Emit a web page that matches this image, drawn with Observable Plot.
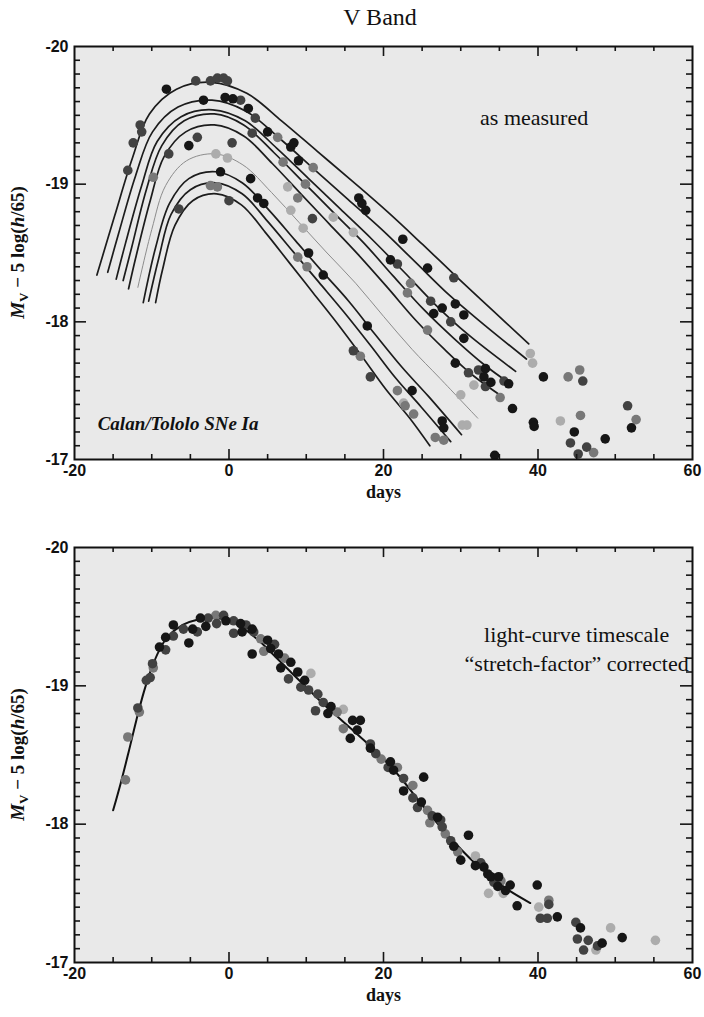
<!DOCTYPE html>
<html><head><meta charset="utf-8">
<script src="https://cdn.jsdelivr.net/npm/d3@7"></script>
<script src="https://cdn.jsdelivr.net/npm/@observablehq/plot@0.6"></script>
<style>
body{margin:0;background:#fff;}
#wrap{position:relative;width:704px;height:1017px;overflow:hidden;}
#title{position:absolute;left:280px;width:200px;top:2px;text-align:center;font-family:"Liberation Serif","Times New Roman",serif;font-size:24px;line-height:30px;color:#111;}
</style></head>
<body><div id="wrap"><div id="title">V Band</div></div>
<script>
// ---------- data ----------
const xTickLabels = [-20, 0, 20, 40, 60];
const yTickLabels = [-20, -19, -18, -17];
const shadeCodes = ["l", "g", "d", "k"];
const shadeColors = ["#acacac", "#787878", "#424242", "#161616"];

// top panel: fitted template curves, [day, mag]
const curve1 = [[-17.1,-18.34],[-14.8,-18.77],[-12.5,-19.19],[-10.3,-19.51],[-6.8,-19.69],[-2.3,-19.74],[2.3,-19.66],[6.8,-19.46],[11.4,-19.24],[16.0,-19.02],[20.5,-18.80],[25.1,-18.56],[29.6,-18.32],[34.2,-18.08],[38.8,-17.84]];
const curve2 = [[-15.7,-18.36],[-14.3,-18.64],[-12.1,-19.06],[-9.9,-19.38],[-6.6,-19.56],[-2.2,-19.61],[2.2,-19.53],[6.6,-19.33],[11.0,-19.11],[15.4,-18.89],[19.8,-18.67],[24.2,-18.43],[28.6,-18.19],[33.0,-17.98],[38.5,-17.73]];
const curve3 = [[-14.6,-18.31],[-13.4,-18.57],[-11.3,-18.99],[-9.3,-19.31],[-6.2,-19.49],[-2.1,-19.54],[2.1,-19.46],[6.2,-19.26],[10.3,-19.04],[14.4,-18.82],[18.5,-18.60],[22.7,-18.36],[26.8,-18.12],[30.9,-17.91],[37.1,-17.64]];
const curve4 = [[-13.7,-18.30],[-12.6,-18.54],[-10.7,-18.96],[-8.7,-19.28],[-5.8,-19.46],[-1.9,-19.51],[1.9,-19.43],[5.8,-19.23],[9.7,-19.01],[13.6,-18.79],[17.5,-18.57],[21.3,-18.33],[25.2,-18.09],[29.1,-17.88],[33.0,-17.69],[36.4,-17.55]];
const curve5 = [[-13.0,-18.24],[-12.1,-18.46],[-10.2,-18.88],[-8.4,-19.20],[-5.6,-19.38],[-1.9,-19.43],[1.9,-19.35],[5.6,-19.15],[9.3,-18.93],[13.0,-18.71],[16.7,-18.49],[20.5,-18.25],[24.2,-18.01],[27.9,-17.80],[31.6,-17.61],[35.3,-17.46]];
const curve6 = [[-11.8,-18.25],[-10.0,-18.67],[-8.2,-18.99],[-5.5,-19.17],[-1.8,-19.22],[1.8,-19.14],[5.5,-18.94],[9.1,-18.72],[12.7,-18.50],[16.4,-18.28],[20.0,-18.04],[23.7,-17.80],[27.3,-17.59],[32.2,-17.30]];
const curve7 = [[-11.1,-18.14],[-9.5,-18.54],[-7.7,-18.86],[-5.2,-19.04],[-1.7,-19.09],[1.7,-19.01],[5.2,-18.81],[8.6,-18.59],[12.0,-18.37],[15.5,-18.15],[18.9,-17.91],[22.4,-17.67],[25.8,-17.46],[30.1,-17.18]];
const curve8 = [[-10.4,-18.15],[-9.1,-18.46],[-7.5,-18.78],[-5.0,-18.96],[-1.7,-19.01],[1.7,-18.93],[5.0,-18.73],[8.3,-18.51],[11.6,-18.29],[14.9,-18.07],[18.3,-17.83],[21.6,-17.59],[24.9,-17.38],[28.7,-17.13]];
const curve9 = [[-9.5,-18.14],[-8.6,-18.38],[-7.0,-18.70],[-4.7,-18.88],[-1.6,-18.93],[1.6,-18.85],[4.7,-18.65],[7.8,-18.43],[10.9,-18.21],[14.0,-17.99],[17.2,-17.75],[20.3,-17.51],[23.4,-17.30],[26.0,-17.10]];
const thinCurves = ["curve6"];

// top panel: measured points [day, mag, shade]
const topPoints = [
[-8.1,-19.69,"k"],[-4.3,-19.75,"d"],[-2.4,-19.75,"d"],[-1.5,-19.77,"d"],[-0.7,-19.77,"d"],[-0.2,-19.75,"d"],
[-3.3,-19.61,"k"],[-0.5,-19.63,"k"],[0.5,-19.62,"k"],[1.5,-19.61,"d"],[2.5,-19.55,"k"],[3.4,-19.48,"d"],
[5.0,-19.38,"k"],[3.0,-19.37,"d"],[8.0,-19.27,"k"],[8.4,-19.30,"k"],[9.0,-19.17,"k"],[-5.2,-19.28,"k"],
[-7.8,-19.22,"d"],[-4.1,-19.34,"d"],[0.4,-19.30,"d"],[-1.7,-19.22,"l"],[-0.2,-19.19,"l"],[-1.1,-19.09,"k"],
[-2.4,-18.99,"g"],[-1.5,-18.98,"g"],[0.0,-18.88,"d"],[2.8,-19.04,"k"],[3.7,-18.90,"k"],[4.5,-18.86,"k"],
[7.6,-18.98,"l"],[8.9,-18.90,"g"],[8.0,-18.81,"l"],[10.8,-18.75,"d"],[10.3,-18.50,"k"],[9.6,-18.68,"l"],
[-6.5,-18.82,"d"],[-9.8,-19.05,"g"],[-13.1,-19.10,"d"],[-11.5,-19.43,"d"],[-11.3,-19.38,"d"],[-12.4,-19.30,"d"],
[16.8,-18.90,"k"],[17.7,-18.81,"k"],[17.2,-18.86,"k"],[22.5,-18.60,"k"],[16.1,-18.65,"l"],[13.5,-18.76,"l"],
[10.9,-19.12,"g"],[9.9,-19.00,"g"],[6.3,-19.34,"g"],[7.0,-19.16,"g"],
[12.2,-18.34,"k"],[8.9,-18.47,"g"],[10.1,-18.40,"g"],[17.9,-17.97,"k"],[16.1,-17.79,"d"],[17.0,-17.75,"g"],
[18.3,-17.60,"d"],[21.8,-17.50,"g"],[22.6,-17.41,"l"],[23.7,-17.50,"k"],[22.8,-17.39,"g"],[23.9,-17.33,"g"],
[27.6,-17.28,"k"],[27.8,-17.23,"k"],[26.7,-17.16,"g"],[27.8,-17.14,"g"],[30.2,-17.25,"l"],[30.8,-17.25,"l"],
[30.0,-17.47,"l"],[31.7,-17.54,"l"],[25.7,-18.39,"k"],[29.1,-18.32,"d"],[20.9,-18.45,"k"],[21.8,-18.42,"d"],
[23.5,-18.28,"g"],[23.1,-18.21,"g"],[26.1,-18.15,"d"],[26.5,-18.06,"k"],[27.6,-18.10,"k"],[29.3,-18.13,"k"],
[30.4,-18.05,"k"],[28.7,-18.00,"d"],[25.7,-17.94,"g"],[30.4,-17.88,"k"],[29.3,-17.70,"k"],[31.0,-17.63,"d"],
[32.3,-17.65,"d"],[33.2,-17.66,"k"],[33.0,-17.60,"k"],[33.9,-17.56,"k"],[33.2,-17.53,"d"],[35.1,-17.45,"g"],
[36.2,-17.55,"k"],[36.7,-17.37,"k"],[35.6,-17.57,"d"],[39.0,-17.77,"l"],[39.3,-17.70,"l"],[40.7,-17.60,"k"],
[43.9,-17.60,"g"],[45.4,-17.65,"g"],[45.8,-17.57,"d"],[45.5,-17.32,"g"],[42.9,-17.28,"l"],[39.4,-17.27,"k"],
[39.5,-17.24,"k"],[44.7,-17.20,"k"],[44.2,-17.12,"d"],[46.3,-17.09,"d"],[45.2,-17.04,"d"],[47.2,-17.05,"g"],
[48.7,-17.15,"k"],[51.6,-17.39,"d"],[52.7,-17.29,"g"],[52.1,-17.23,"k"],[34.4,-17.03,"k"]
];

// bottom panel: stretch-corrected template [day, mag]
const templateCurve = [[-15,-18.10],[-14,-18.30],[-13,-18.52],[-12,-18.75],[-11,-18.96],[-10,-19.13],[-9,-19.26],[-8,-19.35],[-6,-19.44],[-4,-19.48],[-2,-19.49],[0,-19.47],[2,-19.41],[4,-19.32],[6,-19.21],[8,-19.10],[10,-18.99],[12,-18.88],[14,-18.78],[16,-18.68],[18,-18.58],[20,-18.47],[22,-18.35],[24,-18.21],[26,-18.07],[28,-17.94],[30,-17.82],[32,-17.71],[34,-17.62],[36,-17.53],[39,-17.43]];

// bottom panel: corrected points [day, mag, shade]
const bottomPoints = [
[-13.4,-18.32,"g"],[-13.1,-18.63,"g"],[-11.8,-18.84,"d"],[-11.6,-18.81,"g"],[-10.7,-19.04,"d"],[-10.2,-19.06,"d"],
[-9.9,-19.16,"d"],[-9.8,-19.13,"g"],[-9.0,-19.28,"k"],[-8.2,-19.26,"d"],[-8.2,-19.35,"k"],[-7.2,-19.36,"d"],
[-7.2,-19.44,"k"],[-5.2,-19.31,"k"],[-5.9,-19.41,"d"],[-4.7,-19.41,"k"],[-4.1,-19.39,"d"],[-3.7,-19.49,"k"],
[-2.7,-19.49,"d"],[-1.7,-19.51,"g"],[-0.7,-19.51,"d"],[-3.0,-19.43,"k"],[-1.6,-19.45,"d"],[-0.4,-19.47,"k"],
[0.6,-19.47,"d"],[1.5,-19.45,"k"],[0.6,-19.38,"d"],[1.7,-19.39,"k"],[3.0,-19.41,"k"],[3.2,-19.39,"d"],
[3.0,-19.23,"k"],[4.1,-19.34,"g"],[5.0,-19.33,"k"],[5.4,-19.27,"k"],[4.5,-19.25,"g"],[6.4,-19.23,"k"],
[6.7,-19.13,"k"],[8.0,-19.17,"k"],[7.7,-19.05,"d"],[8.9,-19.10,"k"],[10.6,-19.09,"l"],[9.3,-18.99,"d"],
[10.3,-18.97,"d"],[11.5,-18.94,"d"],[11.2,-18.82,"d"],[12.8,-18.80,"k"],[14.0,-18.81,"g"],[14.8,-18.83,"l"],
[16.0,-18.75,"k"],[17.0,-18.75,"k"],[14.8,-18.69,"g"],[15.7,-18.62,"k"],[16.6,-18.68,"k"],[18.3,-18.55,"k"],
[19.0,-18.51,"d"],[18.3,-18.58,"d"],[20.9,-18.45,"k"],[20.6,-18.41,"d"],[21.3,-18.39,"k"],[21.8,-18.41,"g"],
[22.6,-18.33,"d"],[23.8,-18.28,"g"],[25.2,-18.34,"k"],[22.6,-18.24,"k"],[23.8,-18.19,"d"],[24.4,-18.12,"d"],
[25.7,-18.10,"g"],[26.3,-18.06,"d"],[27.0,-18.05,"k"],[27.4,-18.03,"d"],[27.6,-17.98,"d"],[28.0,-17.93,"g"],
[28.7,-17.88,"d"],[31.0,-17.92,"k"],[30.0,-17.74,"k"],[29.6,-17.80,"g"],[31.9,-17.77,"l"],[31.9,-17.70,"k"],
[33.0,-17.69,"k"],[33.5,-17.64,"k"],[33.9,-17.62,"k"],[34.3,-17.58,"d"],[34.9,-17.62,"k"],[34.8,-17.55,"k"],
[35.8,-17.52,"k"],[36.4,-17.56,"k"],[33.6,-17.50,"l"],[35.5,-17.50,"l"],[37.3,-17.41,"k"],[39.9,-17.56,"k"],
[40.1,-17.40,"l"],[41.4,-17.45,"g"],[41.4,-17.42,"d"],[40.3,-17.32,"d"],[41.2,-17.32,"d"],[42.5,-17.33,"k"],
[44.9,-17.29,"d"],[45.5,-17.25,"k"],[45.1,-17.17,"d"],[45.9,-17.09,"d"],[46.5,-17.16,"d"],[47.7,-17.12,"d"],
[48.3,-17.14,"k"],[47.5,-17.09,"l"],[50.9,-17.18,"k"],[55.2,-17.16,"l"],[49.4,-17.25,"l"],
[2.2,-19.44,"d"],[5.9,-19.30,"d"],[7.2,-19.20,"g"],[9.8,-19.04,"k"],[12.2,-18.88,"d"],[13.2,-18.85,"k"],
[19.7,-18.47,"g"],[24.9,-18.16,"k"],[26.0,-18.01,"g"],[29.1,-17.84,"k"],[32.6,-17.72,"d"],[35.2,-17.59,"g"]
];

// ---------- drawing ----------
const shadeOrder = s => shadeCodes.indexOf(s);
const toRows = pts => pts.map(([day, mag, shade]) => ({day, mag, shade}))
  .sort((a, b) => shadeOrder(a.shade) - shadeOrder(b.shade));
const curveNames = ["curve1","curve2","curve3","curve4","curve5","curve6","curve7","curve8","curve9"];
const curveArrays = [curve1,curve2,curve3,curve4,curve5,curve6,curve7,curve8,curve9];
const curveRows = curveArrays.flatMap((c, i) => c.map(([day, mag]) => ({day, mag, id: curveNames[i]})));

const pxPerDay = 618 / 80, pxPerMag = 413 / 3;
const serif = "Liberation Serif, Times New Roman, serif";

function frameTicks() {
  const minorX = d3.range(-15, 60, 5).filter(d => d % 20 !== 0);
  const majorX = [0, 20, 40];
  const minorY = d3.range(-199, -170).filter(d => d % 10 !== 0).map(d => d / 10);
  const majorY = [-19, -18];
  const sx = 5 / pxPerMag, lx = 10 / pxPerMag, sy = 6 / pxPerDay, ly = 12 / pxPerDay;
  const st = {stroke: "#151515", strokeWidth: 1.6};
  return [
    Plot.ruleX(minorX, {y1: -17, y2: -17 - sx, ...st}),
    Plot.ruleX(majorX, {y1: -17, y2: -17 - lx, ...st}),
    Plot.ruleX(minorX, {y1: -20, y2: -20 + sx, ...st}),
    Plot.ruleX(majorX, {y1: -20, y2: -20 + lx, ...st}),
    Plot.ruleY(minorY, {x1: -20, x2: -20 + sy, ...st}),
    Plot.ruleY(majorY, {x1: -20, x2: -20 + ly, ...st}),
    Plot.ruleY(minorY, {x1: 60, x2: 60 - sy, ...st}),
    Plot.ruleY(majorY, {x1: 60, x2: 60 - ly, ...st})
  ];
}

function panel({height, marginTop, marginBottom, marks}) {
  return Plot.plot({
    width: 704, height, marginLeft: 74, marginRight: 12, marginTop, marginBottom,
    x: {domain: [-20, 60]},
    y: {domain: [-17, -20]},
    color: {domain: shadeCodes, range: shadeColors},
    style: {fontFamily: "Liberation Sans, Arial, sans-serif", fontSize: "16px", fontWeight: "bold", background: "transparent", color: "#111", overflow: "visible"},
    marks: [
      Plot.frame({fill: "#e9e9e9"}),
      ...marks,
      ...frameTicks(),
      Plot.axisX({ticks: xTickLabels, tickSize: 0, tickPadding: 5, tickFormat: d => String(d), label: null}),
      Plot.axisY({ticks: yTickLabels, tickSize: 0, tickPadding: 6, tickFormat: d => String(d), label: null}),
      Plot.frame({stroke: "#111", strokeWidth: 2}),
      Plot.text(["days"], {frameAnchor: "bottom", dy: 38, fontFamily: serif, fontWeight: "bold", fontSize: 18, fill: "#111"})
    ]
  });
}

function addYLabel(svg, cy) {
  const t = d3.select(svg).append("text")
    .attr("transform", `translate(24,${cy}) rotate(-90)`)
    .attr("text-anchor", "middle")
    .attr("font-family", serif).attr("font-weight", "bold").attr("font-size", 19).attr("fill", "#111");
  t.append("tspan").attr("font-style", "italic").text("M");
  t.append("tspan").attr("font-size", 13).attr("dy", 4).text("V");
  t.append("tspan").attr("dy", -4).text(" \u2212 5 log(");
  t.append("tspan").attr("font-style", "italic").text("h");
  t.append("tspan").text("/65)");
}

const top1 = panel({
  height: 510, marginTop: 46, marginBottom: 51,
  marks: [
    Plot.line(curveRows.filter(d => !thinCurves.includes(d.id)), {x: "day", y: "mag", z: "id", curve: "catmull-rom", stroke: "#1c1c1c", strokeWidth: 1.7}),
    Plot.line(curveRows.filter(d => thinCurves.includes(d.id)), {x: "day", y: "mag", z: "id", curve: "catmull-rom", stroke: "#8c8c8c", strokeWidth: 1}),
    Plot.dot(toRows(topPoints), {x: "day", y: "mag", fill: "shade", r: 4.8, clip: true}),
    Plot.text(["as measured"], {x: 39.5, y: -19.48, fontFamily: serif, fontWeight: "normal", fontSize: 22, fill: "#111"}),
    Plot.text(["Calan/Tololo SNe Ia"], {x: -17, y: -17.26, textAnchor: "start", fontFamily: serif, fontStyle: "italic", fontWeight: "bold", fontSize: 19, fill: "#111"})
  ]
});
const bottom1 = panel({
  height: 507, marginTop: 37, marginBottom: 55,
  marks: [
    Plot.line(templateCurve.map(([day, mag]) => ({day, mag})), {x: "day", y: "mag", curve: "catmull-rom", stroke: "#111", strokeWidth: 2}),
    Plot.dot(toRows(bottomPoints), {x: "day", y: "mag", fill: "shade", r: 4.8, clip: true}),
    Plot.text(["light-curve timescale\n\u201cstretch-factor\u201d corrected"], {x: 45.0, y: -19.28, lineHeight: 1.35, fontFamily: serif, fontWeight: "normal", fontSize: 22, fill: "#111"})
  ]
});
addYLabel(top1, 252.5);
addYLabel(bottom1, 244.5);
const wrap = document.getElementById("wrap");
top1.style.position = "absolute"; top1.style.left = "0px"; top1.style.top = "0px";
bottom1.style.position = "absolute"; bottom1.style.left = "0px"; bottom1.style.top = "510px";
wrap.appendChild(top1);
wrap.appendChild(bottom1);
</script>
</body></html>
